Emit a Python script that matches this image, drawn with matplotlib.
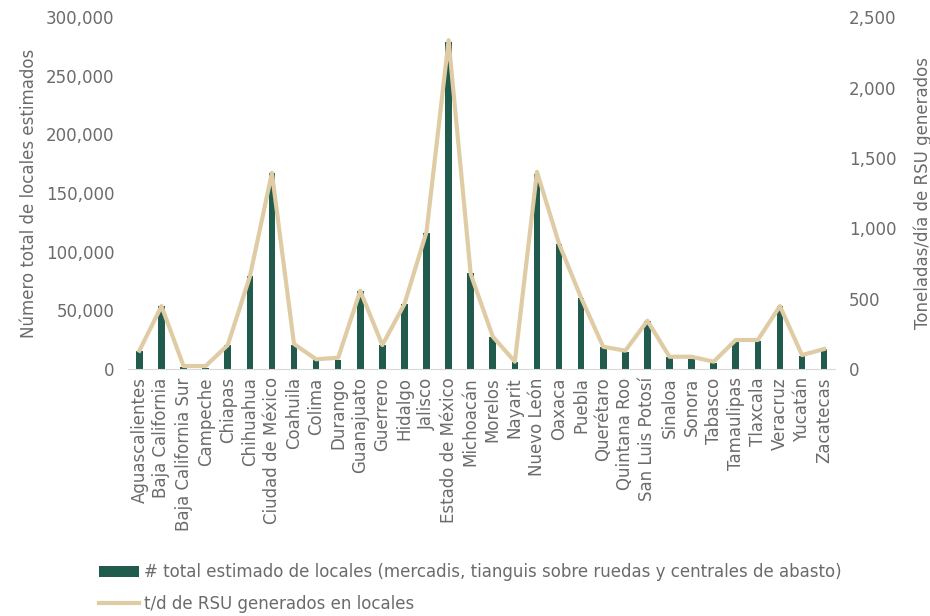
import numpy as np
import matplotlib
matplotlib.use('Agg')
import matplotlib.pyplot as plt
from matplotlib.ticker import FuncFormatter

# --- Data ---
estados = ["Aguascalientes", "Baja California", "Baja California Sur", "Campeche",
           "Chiapas", "Chihuahua", "Ciudad de México", "Coahuila", "Colima",
           "Durango", "Guanajuato", "Guerrero", "Hidalgo", "Jalisco",
           "Estado de México", "Michoacán", "Morelos", "Nayarit", "Nuevo León",
           "Oaxaca", "Puebla", "Querétaro", "Quintana Roo", "San Luis Potosí",
           "Sinaloa", "Sonora", "Tabasco", "Tamaulipas", "Tlaxcala", "Veracruz",
           "Yucatán", "Zacatecas"]
locales = [15000, 54000, 2000, 1000, 20500, 79000, 167000, 20500, 8200,
           8000, 66700, 20500, 55400, 116000, 279000, 81500, 27500, 6300,
           166000, 107000, 60800, 19000, 14800, 41000, 10000, 8200, 5400,
           24000, 24000, 53700, 11000, 17000]
rsu_td = [130, 447, 21, 21, 170, 656, 1394, 178, 69, 80, 556, 170, 462,
          975, 2337, 675, 230, 52, 1401, 890, 506, 158, 130, 343, 87, 87,
          52, 206, 206, 447, 99, 142]

gris = '#6B6B6B'
verde = '#215B4D'
arena = '#E0CCA4'
fs = 12
plt.rcParams['font.family'] = ['DejaVu Sans']

fig = plt.figure(figsize=(9.3, 6.16), dpi=100)
ax1 = fig.add_axes([0.138, 0.401, 0.760, 0.571])
x = np.arange(len(estados))

b = ax1.bar(x, locales, width=0.3, color=verde, zorder=2,
            label='# total estimado de locales (mercadis, tianguis sobre ruedas y centrales de abasto)')
ax1.set_ylim(0, 300000)
ax1.set_yticks(np.arange(0, 300001, 50000))
ax1.yaxis.set_major_formatter(FuncFormatter(lambda v, p: f'{v:,.0f}'))
ax1.set_xlim(-0.5, len(estados) - 0.5)
ax1.set_xticks(x)
ax1.set_xticklabels(estados, rotation=90, fontsize=fs, color=gris)
ax1.set_ylabel('Número total de locales estimados', fontsize=fs, color=gris, labelpad=6)
ax1.tick_params(axis='y', length=0, labelsize=fs, labelcolor=gris, pad=10)
ax1.tick_params(axis='x', length=0, pad=6)
for s in ['top', 'right', 'left']:
    ax1.spines[s].set_visible(False)
ax1.spines['bottom'].set_color('#D9D9D9')

ax2 = ax1.twinx()
l, = ax2.plot(x, rsu_td, color=arena, lw=3, zorder=3,
              label='t/d de RSU generados en locales')
ax2.set_ylim(0, 2500)
ax2.set_yticks(np.arange(0, 2501, 500))
ax2.yaxis.set_major_formatter(FuncFormatter(lambda v, p: f'{v:,.0f}'))
ax2.set_ylabel('Toneladas/día de RSU generados', fontsize=fs, color=gris, labelpad=12)
ax2.tick_params(axis='y', length=0, labelsize=fs, labelcolor=gris, pad=10)
for s in ax2.spines.values():
    s.set_visible(False)

fig.legend(handles=[b, l], loc='upper left', bbox_to_anchor=(0.09, 0.11),
           frameon=False, fontsize=fs, labelcolor=gris, handlelength=2.4,
           handletextpad=0.3, labelspacing=0.8)

fig.savefig('out.png', dpi=100)
